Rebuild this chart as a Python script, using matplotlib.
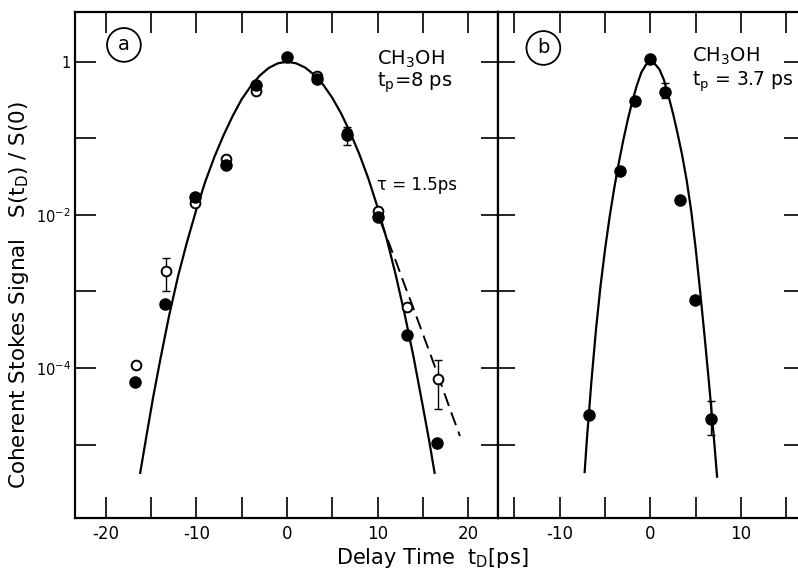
import numpy as np
import matplotlib
matplotlib.use("Agg")
import matplotlib.pyplot as plt
from matplotlib.ticker import FixedLocator, FixedFormatter

# values as log10 of S(t_D)/S(0)

# panel a, CH3OH, t_p = 8 ps
filled_a_t = [-16.8, -13.5, -10.1, -6.7, -3.4, 0.0, 3.3, 6.6, 10.0, 13.3, 16.6]
filled_a_log = [-4.18, -3.17, -1.77, -1.35, -0.30, 0.056, -0.23, -0.96, -2.03, -3.57, -4.98]
open_a_t = [-16.7, -13.3, -10.1, -6.7, -3.4, 3.3, 6.6, 10.0, 13.3, 16.7]
open_a_log = [-3.96, -2.73, -1.84, -1.27, -0.38, -0.18, -0.93, -1.95, -3.20, -4.14]
# error bars on the open points: t, low, high
err_a_t = [-13.3, 6.6, 16.7]
err_a_val = [-2.73, -0.93, -4.14]
err_a_lo = [-2.99, -1.09, -4.53]
err_a_hi = [-2.56, -0.85, -3.90]

curve_a_t = [-16.2, -15.5, -14.8, -14.0, -13.0, -12.0, -11.0, -10.0, -9.0, -8.0,
             -7.0, -6.0, -5.0, -4.0, -3.0, -2.0, -1.0, 0.0, 1.0, 2.0,
             3.0, 4.0, 5.0, 6.0, 7.0, 8.0, 9.0, 10.0, 11.0, 12.0,
             13.0, 14.0, 15.0, 15.7, 16.3]
curve_a_log = [-5.37, -4.88, -4.40, -3.90, -3.31, -2.79, -2.34, -1.93, -1.56, -1.24,
               -0.96, -0.71, -0.49, -0.32, -0.18, -0.08, -0.02, 0.0, -0.02, -0.075,
               -0.17, -0.30, -0.47, -0.68, -0.93, -1.21, -1.53, -1.90, -2.31, -2.78,
               -3.30, -3.87, -4.50, -4.95, -5.37]
# dashed curve, tau = 1.5 ps
dash_a_t = [10.3, 11.2, 12.1, 13.0, 13.9, 14.8, 15.8, 16.6, 17.2, 18.1, 19.1]
dash_a_log = [-2.08, -2.35, -2.63, -2.92, -3.20, -3.49, -3.81, -4.07, -4.27, -4.57, -4.89]

# panel b, CH3OH, t_p = 3.7 ps
filled_b_t = [-6.8, -3.4, -1.7, 0.0, 1.65, 3.3, 4.9, 6.7]
filled_b_log = [-4.61, -1.43, -0.51, 0.04, -0.39, -1.80, -3.11, -4.67]
err_b_t = [1.65, 6.7]
err_b_val = [-0.39, -4.67]
err_b_lo = [-0.47, -4.88]
err_b_hi = [-0.28, -4.43]

curve_b_t = [-7.25, -7.0, -6.5, -6.0, -5.5, -5.0, -4.5, -4.0, -3.5, -3.0, -2.5, -2.0, -1.5, -1.0, -0.5,
             0.0, 0.5, 1.0, 1.5, 2.0, 2.5, 3.0, 3.5, 4.0, 4.5, 5.0, 5.5, 6.0, 6.5, 7.0, 7.35]
curve_b_log = [-5.36, -4.93, -4.17, -3.50, -2.93, -2.45, -2.03, -1.66, -1.33, -1.03, -0.76, -0.52, -0.31, -0.14, -0.04,
               0.0, -0.03, -0.10, -0.24, -0.45, -0.68, -0.94, -1.22, -1.55, -1.95, -2.45, -3.02, -3.62, -4.25, -4.92, -5.42]


def lin(v):
    return 10.0 ** np.asarray(v)


def yerr(val, lo, hi):
    v = lin(val)
    return [v - lin(lo), lin(hi) - v]


plt.rcParams['font.family'] = ['DejaVu Sans']
plt.rcParams['mathtext.fontset'] = 'dejavusans'
plt.rcParams['axes.unicode_minus'] = False

fig = plt.figure(figsize=(7.98, 5.75), dpi=100)
W, H = 798.0, 575.0
x_left, x_mid, x_right = 75, 498, 801
y_top, y_bot = 12, 518
ax_a = fig.add_axes([x_left / W, 1 - y_bot / H, (x_mid - x_left) / W, (y_bot - y_top) / H])
ax_b = fig.add_axes([x_mid / W, 1 - y_bot / H, (x_right - x_mid) / W, (y_bot - y_top) / H])

lw = 1.6
for ax in (ax_a, ax_b):
    ax.set_yscale('log')
    ax.set_ylim(10 ** -5.96, 10 ** 0.65)
    ax.yaxis.set_major_locator(FixedLocator(10.0 ** np.arange(-5, 1)))
    ax.yaxis.set_minor_locator(FixedLocator([]))
    for s in ax.spines.values():
        s.set_linewidth(1.6)

# panel a
ax_a.plot(curve_a_t, lin(curve_a_log), color='black', lw=lw, zorder=2)
ax_a.plot(dash_a_t, lin(dash_a_log), color='black', lw=1.4, dashes=(7, 3.5), zorder=2)
ax_a.errorbar(err_a_t, lin(err_a_val), yerr=yerr(err_a_val, err_a_lo, err_a_hi),
              fmt='none', ecolor='black', elinewidth=1.0, capsize=3, capthick=1.0, zorder=3)
ax_a.plot(open_a_t, lin(open_a_log), 'o', ms=7, mfc='white', mec='black', mew=1.4, zorder=4)
ax_a.plot(filled_a_t, lin(filled_a_log), 'o', ms=8, color='black', zorder=5)

ax_a.set_xlim(-23.4, 23.3)
ax_a.xaxis.set_major_locator(FixedLocator([-20, -10, 0, 10, 20]))
ax_a.xaxis.set_minor_locator(FixedLocator([-15, -5, 5, 15]))
ax_a.yaxis.set_major_formatter(FixedFormatter(['', '$10^{-4}$', '', '$10^{-2}$', '', '1']))
ax_a.tick_params(which='both', direction='in', top=True, right=False, length=15, width=1.2,
                 labelsize=12, pad=5)
ax_a.tick_params(axis='y', pad=3, labelsize=10.5)

ax_a.text(-18.0, 10 ** 0.22, 'a', fontsize=14, ha='center', va='center',
          bbox=dict(boxstyle='circle,pad=0.38', fc='white', ec='black', lw=1.3))
ax_a.text(9.9, 10 ** 0.03, 'CH$_3$OH', fontsize=14, ha='left', va='center')
ax_a.text(9.9, 10 ** -0.27, 't$_\\mathrm{p}$=8 ps', fontsize=14, ha='left', va='center')
ax_a.text(9.9, 10 ** -1.61, 'τ = 1.5ps', fontsize=12, ha='left', va='center')

# panel b
ax_b.plot(curve_b_t, lin(curve_b_log), color='black', lw=lw, zorder=2)
ax_b.errorbar(err_b_t, lin(err_b_val), yerr=yerr(err_b_val, err_b_lo, err_b_hi),
              fmt='none', ecolor='black', elinewidth=1.0, capsize=3, capthick=1.0, zorder=3)
ax_b.plot(filled_b_t, lin(filled_b_log), 'o', ms=8, color='black', zorder=5)

ax_b.set_xlim(-16.8, 16.6)
ax_b.xaxis.set_major_locator(FixedLocator([-10, 0, 10]))
ax_b.xaxis.set_minor_locator(FixedLocator([-15, -5, 5, 15]))
ax_b.tick_params(axis='x', which='both', direction='in', top=True, length=15, width=1.2,
                 labelsize=12, pad=5)
ax_b.tick_params(axis='y', which='both', direction='inout', left=True, right=True,
                 labelleft=False, length=24, width=1.2)

ax_b.text(-11.8, 10 ** 0.18, 'b', fontsize=14, ha='center', va='center',
          bbox=dict(boxstyle='circle,pad=0.38', fc='white', ec='black', lw=1.3))
ax_b.text(4.6, 10 ** 0.065, 'CH$_3$OH', fontsize=14, ha='left', va='center')
ax_b.text(4.6, 10 ** -0.26, 't$_\\mathrm{p}$ = 3.7 ps', fontsize=13.5, ha='left', va='center')

fig.text(19 / W, 1 - 295 / H, 'Coherent Stokes Signal   S(t$_\\mathrm{D}$) / S(0)',
         rotation=90, ha='center', va='center', fontsize=15.5)
fig.text(432 / W, 1 - 558 / H, 'Delay Time  t$_\\mathrm{D}$[ps]', ha='center', va='center',
         fontsize=15)

fig.savefig('out.png', dpi=100)
